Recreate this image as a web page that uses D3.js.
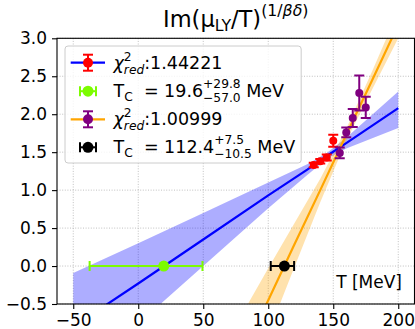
<!DOCTYPE html>
<html><head><meta charset="utf-8">
<script src="https://cdnjs.cloudflare.com/ajax/libs/d3/7.8.5/d3.min.js"></script>
<style>
body { margin: 0; background: #fff; }
svg { font-family: "DejaVu Sans", sans-serif; }
svg text { white-space: pre; }
</style></head><body><div id="chart"></div>
<script>
// --- data ---
let redT = [135, 140, 145, 150];
let redY = [1.33, 1.38, 1.43, 1.65];
let redErr = [0.03, 0.03, 0.04, 0.08];

let purpleT = [155, 160, 165, 170, 175];
let purpleY = [1.49, 1.76, 1.95, 2.28, 2.09];
let purpleErr = [0.07, 0.065, 0.12, 0.23, 0.14];

// blue fit (red points) with its band
let blueT = [-50, 0, 50, 100, 130, 145, 160, 200];
let blueFit = [-0.80, -0.23, 0.35, 0.93, 1.27, 1.45, 1.62, 2.08];
let blueHigh = [-0.09, 0.30, 0.70, 1.10, 1.34, 1.49, 1.69, 2.30];
let blueLow = [-1.51, -0.76, 0.00, 0.76, 1.20, 1.41, 1.55, 1.82];

// orange fit (purple points) with its band
let orangeT = [80, 100, 120, 140, 160, 180, 200];
let orangeFit = [-1.18, -0.45, 0.28, 1.00, 1.73, 2.45, 3.18];
let orangeHigh = [-0.63, -0.03, 0.56, 1.15, 1.81, 2.57, 3.36];
let orangeLow = [-1.78, -0.89, -0.02, 0.84, 1.65, 2.33, 3.00];

// critical temperatures [value, -err, +err]
let tcBlue = [19.6, 57.0, 29.8];
let tcOrange = [112.4, 10.5, 7.5];

let xTicks = [-50, 0, 50, 100, 150, 200];
let yTicks = [-0.5, 0.0, 0.5, 1.0, 1.5, 2.0, 2.5, 3.0];

const width = 415, height = 329;
const pLeft = 57, pRight = 414.5, pTop = 38.3, pBottom = 304;

let svg = d3.select('#chart')
    .append('svg')
    .attr('width', width)
    .attr('height', height);

let x = d3.scaleLinear().domain([-62.5, 212.5]).range([pLeft, pRight]);
let y = d3.scaleLinear().domain([-0.5, 3.0]).range([pBottom, pTop]);

svg.append('clipPath').attr('id', 'clip')
    .append('rect')
    .attr('x', pLeft).attr('y', pTop)
    .attr('width', pRight - pLeft).attr('height', pBottom - pTop);

// grid
let grid = svg.append('g').attr('class', 'grid');
grid.selectAll('.gx').data(xTicks).enter().append('line')
    .attr('x1', d => x(d)).attr('x2', d => x(d))
    .attr('y1', pTop).attr('y2', pBottom)
    .attr('stroke', '#b0b0b0').attr('stroke-width', 0.8)
    .attr('stroke-dasharray', '1,1.6');
grid.selectAll('.gy').data(yTicks).enter().append('line')
    .attr('y1', d => y(d)).attr('y2', d => y(d))
    .attr('x1', pLeft).attr('x2', pRight)
    .attr('stroke', '#b0b0b0').attr('stroke-width', 0.8)
    .attr('stroke-dasharray', '1,1.6');

let plot = svg.append('g').attr('clip-path', 'url(#clip)');

let area = d3.area()
    .x(d => x(d[0]))
    .y0(d => y(d[1]))
    .y1(d => y(d[2]));
let line = d3.line().x(d => x(d[0])).y(d => y(d[1]));

plot.append('path')
    .attr('d', area(blueT.map((t, i) => [t, blueLow[i], blueHigh[i]])))
    .attr('fill', 'blue').attr('fill-opacity', 0.32);
plot.append('path')
    .attr('d', area(orangeT.map((t, i) => [t, orangeLow[i], orangeHigh[i]])))
    .attr('fill', 'orange').attr('fill-opacity', 0.32);
plot.append('path')
    .attr('d', line(blueT.map((t, i) => [t, blueFit[i]])))
    .attr('fill', 'none').attr('stroke', 'blue').attr('stroke-width', 2.2);
plot.append('path')
    .attr('d', line(orangeT.map((t, i) => [t, orangeFit[i]])))
    .attr('fill', 'none').attr('stroke', 'orange').attr('stroke-width', 2.2);

function drawPoints(ts, ys, errs, color, r) {
    let g = plot.append('g');
    ts.forEach(function(t, i) {
        let cx = x(t);
        g.append('line')
            .attr('x1', cx).attr('x2', cx)
            .attr('y1', y(ys[i] - errs[i])).attr('y2', y(ys[i] + errs[i]))
            .attr('stroke', color).attr('stroke-width', 2);
        [ys[i] - errs[i], ys[i] + errs[i]].forEach(function(v) {
            g.append('line')
                .attr('x1', cx - 5).attr('x2', cx + 5)
                .attr('y1', y(v)).attr('y2', y(v))
                .attr('stroke', color).attr('stroke-width', 2);
        });
        g.append('circle').attr('cx', cx).attr('cy', y(ys[i])).attr('r', r).attr('fill', color);
    });
}
drawPoints(redT, redY, redErr, 'red', 4);
drawPoints(purpleT, purpleY, purpleErr, 'purple', 4);

function drawTc(tc, color, r) {
    let g = plot.append('g');
    let lo = tc[0] - tc[1], hi = tc[0] + tc[2];
    g.append('line')
        .attr('x1', x(lo)).attr('x2', x(hi))
        .attr('y1', y(0)).attr('y2', y(0))
        .attr('stroke', color).attr('stroke-width', 2);
    [lo, hi].forEach(function(v) {
        g.append('line')
            .attr('x1', x(v)).attr('x2', x(v))
            .attr('y1', y(0) - 5).attr('y2', y(0) + 5)
            .attr('stroke', color).attr('stroke-width', 2);
    });
    g.append('circle').attr('cx', x(tc[0])).attr('cy', y(0)).attr('r', r).attr('fill', color);
}
drawTc(tcBlue, '#7cfc00', 5.5);
drawTc(tcOrange, 'black', 5.5);

// axes
let xAxis = svg.append('g')
    .attr('transform', 'translate(0,' + pBottom + ')')
    .call(d3.axisBottom(x).tickValues(xTicks).tickFormat(d3.format('d')).tickSize(5).tickPadding(5));
let yAxis = svg.append('g')
    .attr('transform', 'translate(' + pLeft + ',0)')
    .call(d3.axisLeft(y).tickValues(yTicks).tickFormat(d3.format('.1f')).tickSize(5).tickPadding(5));
[xAxis, yAxis].forEach(function(a) {
    a.select('.domain').remove();
    a.selectAll('text').style('font-size', '17px').attr('fill', 'black')
        .style('font-family', '"DejaVu Sans", sans-serif');
    a.selectAll('line').attr('stroke', 'black').attr('stroke-width', 1.1);
});
svg.append('rect')
    .attr('x', pLeft).attr('y', pTop)
    .attr('width', pRight - pLeft).attr('height', pBottom - pTop)
    .attr('fill', 'none').attr('stroke', 'black').attr('stroke-width', 1.1);

// mathtext-like helper: pieces are laid out one after another
function richText(g, x0, base, pieces, fs) {
    let small = fs * 0.7;
    let cx = x0;
    pieces.forEach(function(p) {
        if (p.sup !== undefined) {
            let a = g.append('text').attr('x', cx).attr('y', base + p.supDy)
                .style('font-size', small + 'px').text(p.sup);
            let b = g.append('text').attr('x', cx).attr('y', base + p.subDy)
                .style('font-size', small + 'px')
                .style('font-style', p.subIt ? 'italic' : 'normal').text(p.sub);
            cx += Math.max(a.node().getComputedTextLength(), b.node().getComputedTextLength());
        } else {
            let n = g.append('text').attr('x', cx).attr('y', base + (p.dy || 0))
                .style('font-size', (p.small ? small : fs) + 'px')
                .style('font-style', p.it ? 'italic' : 'normal').text(p.t);
            cx += n.node().getComputedTextLength();
        }
    });
    return cx;
}

// title
let title = svg.append('g');
let tEnd = richText(title, 0, 27, [
    {t: 'Im(μ'}, {t: 'LY', small: true, dy: 3.5}, {t: '/T)'},
    {t: '(1/', small: true, dy: -11}, {t: 'βδ', small: true, it: true, dy: -11},
    {t: ')', small: true, dy: -11}
], 22.5);
title.attr('transform', 'translate(' + ((pLeft + pRight) / 2 - tEnd / 2) + ',0)');

// x label inside the axes
svg.append('text')
    .attr('x', 402).attr('y', 288)
    .attr('text-anchor', 'end')
    .style('font-size', '17px')
    .text('T [MeV]');

// legend
let legend = svg.append('g');
let legBox = legend.append('rect')
    .attr('x', 65).attr('y', 46)
    .attr('rx', 3).attr('ry', 3)
    .attr('height', 117)
    .attr('fill', 'white').attr('fill-opacity', 0.8)
    .attr('stroke', '#cccccc').attr('stroke-width', 1);

let rows = [62.7, 91.2, 119.3, 147.3];
let hx0 = 70.7, hx1 = 105, hm = 88, tx = 113.5;
let ends = [];

function legendFit(cy, lineColor, ptColor) {
    legend.append('line').attr('x1', hx0).attr('x2', hx1).attr('y1', cy).attr('y2', cy)
        .attr('stroke', lineColor).attr('stroke-width', 2.2);
    legend.append('line').attr('x1', hm).attr('x2', hm).attr('y1', cy - 8).attr('y2', cy + 8)
        .attr('stroke', ptColor).attr('stroke-width', 2);
    [cy - 8, cy + 8].forEach(v => legend.append('line')
        .attr('x1', hm - 5).attr('x2', hm + 5).attr('y1', v).attr('y2', v)
        .attr('stroke', ptColor).attr('stroke-width', 2));
    legend.append('circle').attr('cx', hm).attr('cy', cy).attr('r', 5).attr('fill', ptColor);
}
function legendTc(cy, color) {
    legend.append('line').attr('x1', hm - 8).attr('x2', hm + 8).attr('y1', cy).attr('y2', cy)
        .attr('stroke', color).attr('stroke-width', 2);
    [hm - 8, hm + 8].forEach(v => legend.append('line')
        .attr('x1', v).attr('x2', v).attr('y1', cy - 5).attr('y2', cy + 5)
        .attr('stroke', color).attr('stroke-width', 2));
    legend.append('circle').attr('cx', hm).attr('cy', cy).attr('r', 5.5).attr('fill', color);
}

legendFit(rows[0], 'blue', 'red');
ends.push(richText(legend, tx, rows[0] + 6, [
    {t: 'χ', it: true}, {sup: '2', sub: 'red', subIt: true, supDy: -8, subDy: 5},
    {t: ':1.44221'}
], 17.5));
legendTc(rows[1], '#7cfc00');
ends.push(richText(legend, tx, rows[1] + 5.5, [
    {t: 'T'}, {t: 'C', small: true, dy: 4}, {t: '  = 19.6'},
    {sup: '+29.8', sub: '−57.0', supDy: -9, subDy: 5.5}, {t: ' MeV'}
], 17.5));
legendFit(rows[2], 'orange', 'purple');
ends.push(richText(legend, tx, rows[2] + 6, [
    {t: 'χ', it: true}, {sup: '2', sub: 'red', subIt: true, supDy: -8, subDy: 5},
    {t: ':1.00999'}
], 17.5));
legendTc(rows[3], 'black');
ends.push(richText(legend, tx, rows[3] + 5.5, [
    {t: 'T'}, {t: 'C', small: true, dy: 4}, {t: '  = 112.4'},
    {sup: '+7.5', sub: '−10.5', supDy: -9, subDy: 5.5}, {t: ' MeV'}
], 17.5));
legBox.attr('width', d3.max(ends) + 6 - 65);
</script>
</body></html>
